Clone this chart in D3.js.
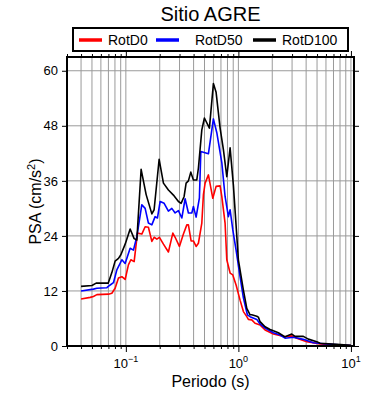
<!DOCTYPE html>
<html><head><meta charset="utf-8">
<script src="https://cdn.jsdelivr.net/npm/d3@7"></script>
<style>body{margin:0;background:#fff} svg{display:block} text{font-family:"Liberation Sans",Arial,Helvetica,sans-serif;fill:#000}</style>
</head><body><svg id="c" width="390" height="400"></svg>
<script>
const title = "Sitio AGRE";
const xLabel = "Periodo (s)";
const seriesNames = ["RotD0", "RotD50", "RotD100"];
const seriesColors = ["#ff0000", "#0000ff", "#000000"];
const yTicks = [0, 12, 24, 36, 48, 60];
const xDecades = [0.1, 1, 10];
const xDecadeExp = ["\u22121", "0", "1"];

const periodsD0 = [0.040,0.0482,0.0515,0.0553,0.0701,0.0751,0.0803,0.0860,0.0922,0.0986,0.1054,0.1108,0.1185,0.1268,0.1387,0.1484,0.1587,0.1702,0.1783,0.1885,0.1988,0.2158,0.2389,0.2615,0.2741,0.2992,0.3248,0.3482,0.3597,0.3801,0.3985,0.4211,0.4414,0.4732,0.4890,0.5063,0.5416,0.5925,0.6339,0.6880,0.7123,0.7617,0.7889,0.8440,0.8920,0.9541,1.035,1.108,1.188,1.227,1.315,1.407,1.558,1.727,2.046,2.598,2.981,3.302,4.051,5.316,8.003,10.0];
const valuesD0 = [10.25,10.6,10.8,11.2,11.3,11.5,12.6,14.8,15.1,14.5,17.7,18.8,18.4,24.6,24.4,26.0,25.9,22.8,23.7,23.3,23.7,22.2,20.5,24.6,23.7,21.7,24.4,26.4,26.4,22.9,22.9,21.7,22.4,26.8,33.0,35.5,37.3,32.2,34.8,34.9,32.6,26.8,18.8,15.9,15.5,13.3,10.0,7.5,6.4,5.8,5.7,4.95,4.6,3.5,2.6,2.0,2.2,1.7,0.95,0.45,0.2,0.1];

const periodsD50 = [0.040,0.0515,0.0553,0.0678,0.0726,0.0776,0.0832,0.0922,0.0986,0.1092,0.1168,0.1252,0.1387,0.1484,0.1587,0.1702,0.1820,0.1908,0.2017,0.2189,0.2389,0.2562,0.2741,0.2932,0.3143,0.3363,0.3597,0.3856,0.3985,0.4211,0.4505,0.4637,0.5416,0.5998,0.6431,0.7123,0.7617,0.8151,0.8440,0.8920,0.9541,1.035,1.108,1.202,1.270,1.457,1.558,1.727,2.046,2.346,2.598,3.080,3.778,4.636,6.097,10.0];
const valuesD50 = [12.0,12.4,12.6,12.7,13.3,13.8,16.6,18.8,18.0,21.3,20.9,23.8,30.8,30.0,26.8,26.4,28.2,27.9,31.5,31.1,29.4,30.0,29.0,29.5,27.9,32.1,29.0,29.0,30.4,28.1,32.3,42.4,41.9,49.5,46.5,40.0,32.6,28.2,29.7,25.3,20.9,15.1,10.5,6.8,6.4,5.8,4.8,3.9,2.9,2.4,1.7,1.9,1.45,0.7,0.45,0.12];

const periodsD100 = [0.040,0.050,0.0545,0.0697,0.0751,0.0803,0.0860,0.0903,0.0986,0.1092,0.1185,0.1252,0.1367,0.1515,0.1702,0.1783,0.1976,0.2158,0.2389,0.2647,0.2932,0.3098,0.3295,0.3432,0.3597,0.3778,0.3985,0.4272,0.4414,0.4732,0.4990,0.5528,0.5998,0.6339,0.6880,0.7360,0.7889,0.8440,0.9030,1.000,1.108,1.188,1.270,1.315,1.457,1.505,1.558,1.727,1.912,2.046,2.266,2.598,2.981,3.189,3.778,4.185,4.969,5.316,7.479,10.0];
const valuesD100 = [13.0,13.2,13.7,13.7,16.0,18.5,19.1,19.9,22.2,25.5,23.4,23.1,38.5,33.0,28.8,29.7,40.7,35.5,34.0,32.9,31.5,31.1,32.6,35.5,36.0,37.9,36.2,36.2,38.8,47.1,49.7,47.5,57.2,55.3,47.5,42.8,36.9,43.2,35.0,18.8,12.2,8.2,6.8,6.8,6.5,6.3,5.3,4.2,3.6,3.3,2.9,2.0,2.6,2.1,2.1,1.5,0.95,0.6,0.35,0.15];

const periodSets = [periodsD0, periodsD50, periodsD100];
const valueSets = [valuesD0, valuesD50, valuesD100];

const svg = d3.select("#c");
const PL = 67, PR = 354, PT = 57, PB = 346;
const x = d3.scaleLog().domain([0.03, 10.65]).range([PL, PR]);
const y = d3.scaleLinear().domain([0, 63]).range([PB, PT]);

// grid
const minor = [];
for (let e = -2; e <= 1; e++) for (let k = 1; k <= 9; k++) {
  const v = k * Math.pow(10, e);
  if (v >= 0.03 && v <= 10.65) minor.push(v);
}
const grid = svg.append("g");
grid.selectAll("line.vg").data(minor).join("line").attr("class", "vg")
  .attr("x1", d => x(d)).attr("x2", d => x(d)).attr("y1", PT).attr("y2", PB)
  .attr("stroke", "#9a9a9a").attr("stroke-width", 1);
grid.selectAll("line.hg").data(yTicks.filter(d => d > 0)).join("line").attr("class", "hg")
  .attr("x1", PL).attr("x2", PR).attr("y1", d => y(d)).attr("y2", d => y(d))
  .attr("stroke", "#9a9a9a").attr("stroke-width", 1);

// clip
svg.append("clipPath").attr("id", "clip").append("rect")
  .attr("x", PL).attr("y", PT).attr("width", PR - PL).attr("height", PB - PT);

const line = d3.line().x(d => x(d[0])).y(d => y(d[1]));
const lines = svg.append("g").attr("clip-path", "url(#clip)");
[0, 1, 2].forEach(i => {
  const pts = periodSets[i].map((p, j) => [p, valueSets[i][j]]);
  lines.append("path").datum(pts).attr("d", line)
    .attr("fill", "none").attr("stroke", seriesColors[i])
    .attr("stroke-width", 1.6).attr("stroke-linejoin", "round");
});

// axes
const isMajor = d => xDecades.some(v => Math.abs(v - d) < 1e-9);
const axB = svg.append("g").attr("transform", `translate(0,${PB})`)
  .call(d3.axisBottom(x).tickValues(minor).tickFormat("").tickSizeOuter(0));
axB.select(".domain").remove();
axB.selectAll(".tick line").attr("y2", d => isMajor(d) ? 6 : 3).attr("stroke", "#000");
const axT = svg.append("g").attr("transform", `translate(0,${PT})`)
  .call(d3.axisTop(x).tickValues(minor).tickFormat("").tickSizeOuter(0));
axT.select(".domain").remove();
axT.selectAll(".tick line").attr("y2", d => isMajor(d) ? -6 : -3).attr("stroke", "#000");

const axL = svg.append("g").attr("transform", `translate(${PL},0)`)
  .call(d3.axisLeft(y).tickValues(yTicks).tickSize(5).tickSizeOuter(0).tickPadding(4));
axL.select(".domain").remove();
axL.selectAll(".tick text").attr("font-size", 13).attr("font-family", '"Liberation Sans",Arial,sans-serif').attr("fill", "#000");
axL.selectAll(".tick line").attr("stroke", "#000");
const axR = svg.append("g").attr("transform", `translate(${PR},0)`)
  .call(d3.axisRight(y).tickValues(yTicks).tickSize(5).tickFormat("").tickSizeOuter(0));
axR.select(".domain").remove();
axR.selectAll(".tick line").attr("stroke", "#000");

// x tick labels with superscripts
const xl = svg.append("g");
xDecades.forEach((v, i) => {
  const t = xl.append("text").attr("x", x(v)).attr("y", 368)
    .attr("text-anchor", "middle").attr("font-size", 13);
  t.append("tspan").text("10");
  t.append("tspan").attr("dy", -6).attr("font-size", 9).text(xDecadeExp[i]);
});

// frame
svg.append("rect").attr("x", PL).attr("y", PT).attr("width", PR - PL).attr("height", PB - PT)
  .attr("fill", "none").attr("stroke", "#000").attr("stroke-width", 2);

// labels
svg.append("text").attr("x", (PL + PR) / 2).attr("y", 387).attr("text-anchor", "middle")
  .attr("font-size", 16).text(xLabel);
const yl = svg.append("text").attr("transform", `translate(41,${(PT + PB) / 2}) rotate(-90)`)
  .attr("text-anchor", "middle").attr("font-size", 16);
yl.append("tspan").text("PSA (cm/s");
yl.append("tspan").attr("dy", -6).attr("font-size", 11).text("2");
yl.append("tspan").attr("dy", 6).text(")");

svg.append("text").attr("x", (PL + PR) / 2).attr("y", 21).attr("text-anchor", "middle")
  .attr("font-size", 20).text(title);

// legend
const lg = svg.append("g");
lg.append("rect").attr("x", 73).attr("y", 28).attr("width", 275).attr("height", 23)
  .attr("fill", "#fff").attr("stroke", "#000").attr("stroke-width", 2);
const legX = [79, 156, 253];
seriesNames.forEach((n, i) => {
  lg.append("line").attr("x1", legX[i]).attr("x2", legX[i] + 23).attr("y1", 40).attr("y2", 40)
    .attr("stroke", seriesColors[i]).attr("stroke-width", 3.5);
  lg.append("text").attr("x", legX[i] + (i === 1 ? 39 : 29)).attr("y", 45).attr("font-size", 14).text(n);
});
</script></body></html>
